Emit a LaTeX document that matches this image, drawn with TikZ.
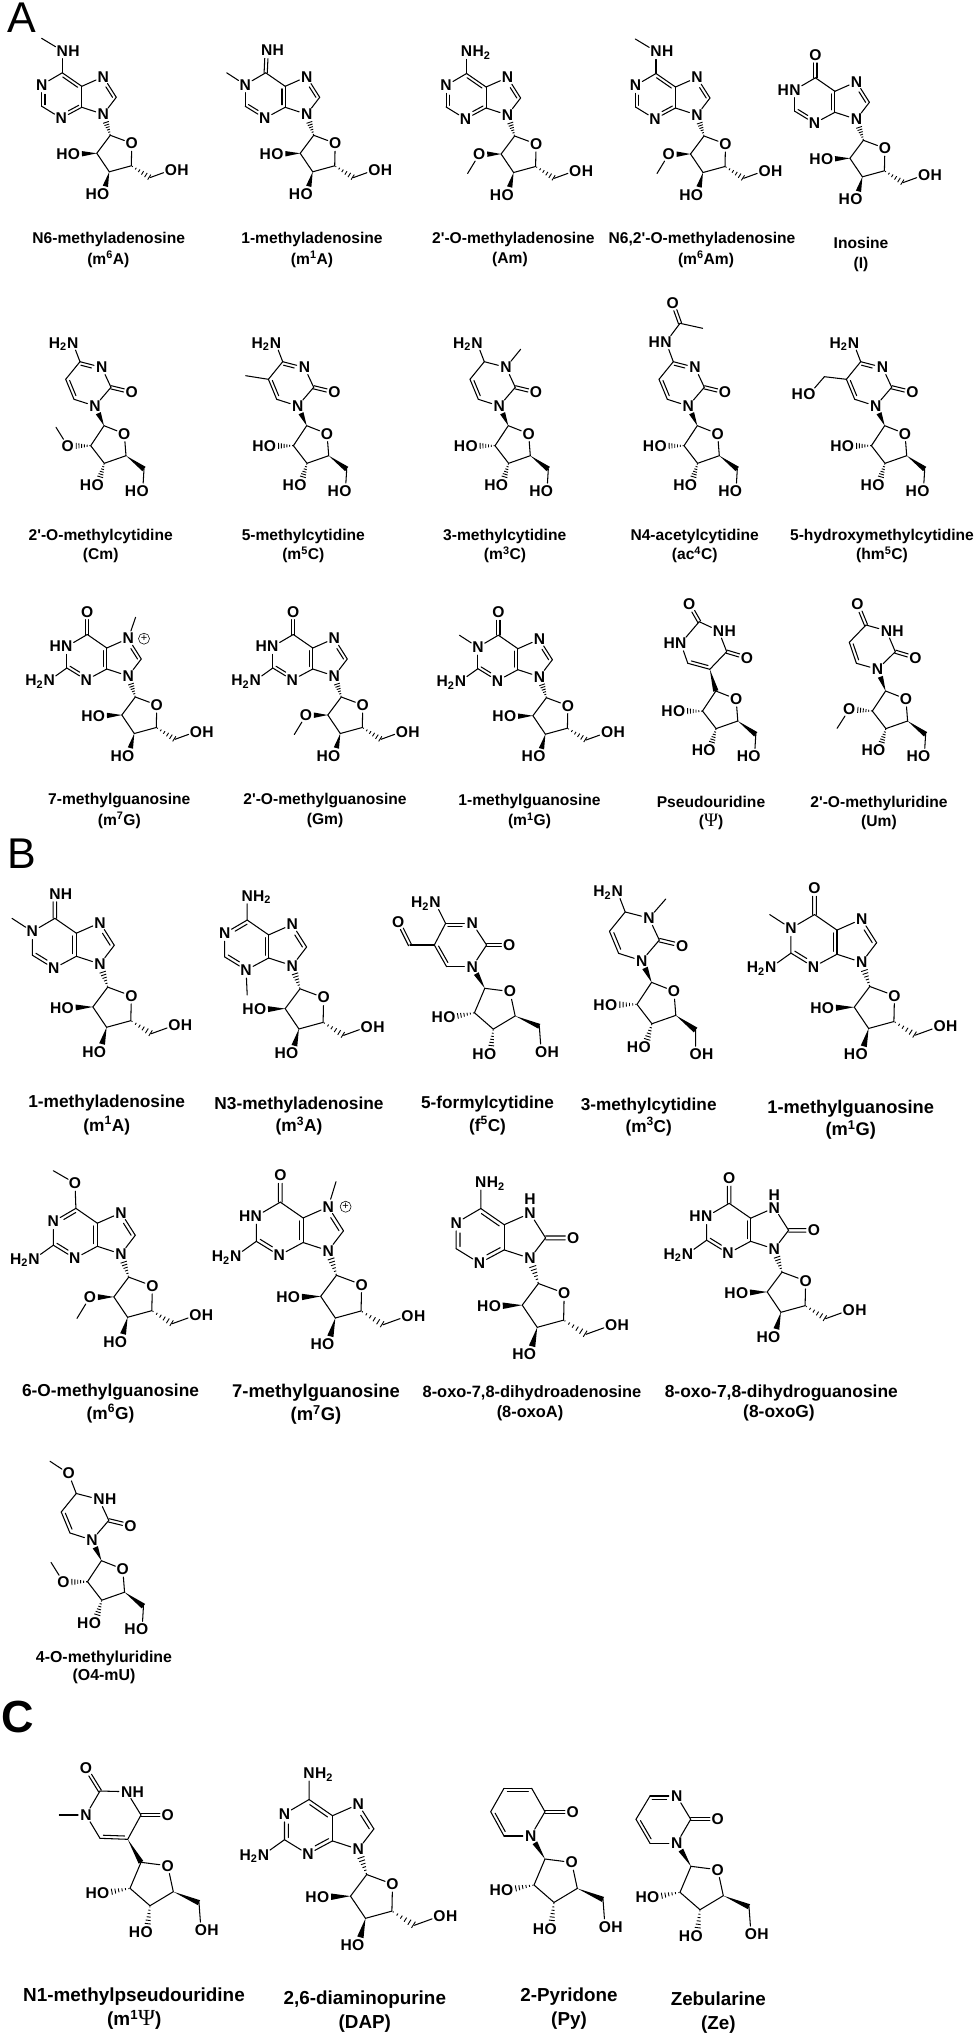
\documentclass[tikz,border=0pt]{standalone}
\usepackage{fontspec}
\setmainfont{Liberation Sans}
\newfontfamily\psifont{Liberation Serif}
\newfontfamily\lfont{Liberation Sans}
\usetikzlibrary{calc}
\tikzset{
  atomt/.style={inner sep=0pt,font=\fontsize{15.6}{15.6}\selectfont\bfseries},
  atomc/.style={circle,inner sep=0pt,minimum size=15.5pt},
  bnd/.style={line width=1.05pt,line cap=round},
  hashl/.style={line width=.9pt},
  chg/.style={circle,draw,line width=.55pt,inner sep=0pt,minimum size=11pt,font=\fontsize{11}{11}\selectfont},
  letter/.style={anchor=base west,inner sep=0pt}
}
% atoms
\newcommand\AtL[4]{\node[atomt] (#1t) at (#2) {#4};\node[atomc] (#1) at (#2) {};\node[atomt,anchor=base east] (#1p) at (#1t.base west) {#3};}
\newcommand\AtR[4]{\node[atomt] (#1t) at (#2) {#3};\node[atomc] (#1) at (#2) {};\node[atomt,anchor=base west] (#1p) at (#1t.base east) {#4};}
\newcommand\At[3]{\node[atomt] (#1t) at (#2) {#3};\node[atomc] (#1) at (#2) {};}
% bonds
\newcommand\bd[2]{\draw[bnd] (#1) -- (#2);}
\newcommand\dbx[4]{\draw[bnd] (#1) -- (#2);
  \path (#1) -- coordinate[pos=.12] (ss) coordinate[pos=.88] (ee) (#2);
  \draw[bnd] ($(ss)!3.2pt!#3:(ee)$) -- ($(ee)!3.2pt!#4:(ss)$);}
\newcommand\dbl[2]{\dbx{#1}{#2}{90}{-90}}
\newcommand\dbr[2]{\dbx{#1}{#2}{-90}{90}}
\newcommand\dbc[2]{\path (#1) -- coordinate[pos=0] (ss) coordinate[pos=1] (ee) (#2);
  \draw[bnd] ($(ss)!1.6pt!90:(ee)$) -- ($(ee)!1.6pt!-90:(ss)$);
  \draw[bnd] ($(ss)!1.6pt!-90:(ee)$) -- ($(ee)!1.6pt!90:(ss)$);}
\newcommand\wdg[2]{\path (#1) -- coordinate[pos=0] (ss) coordinate[pos=1] (ee) (#2);
  \fill (ss) -- ($(ee)!2.7pt!90:(ss)$) -- ($(ee)!2.7pt!-90:(ss)$) -- cycle;}
\newcommand\hsh[2]{\path (#1) -- coordinate[pos=0] (ss) coordinate[pos=1] (ee) (#2);
  \foreach \hpos/\hwid in {.06/.5,.24/1,.42/1.5,.6/2,.78/2.5,.96/3}{
    \draw[hashl] ($(ss)!\hpos!(ee)!\hwid pt!90:(ee)$) -- ($(ss)!\hpos!(ee)!\hwid pt!-90:(ee)$);}}
% purine skeleton, relative to N9
\newcommand\purCommon[1]{%
  \coordinate (C6) at (-41,-41.5);\coordinate (C2) at (-61.5,-8);\coordinate (C4) at (-21.5,-7);
  \coordinate (C5) at (-21.5,-28);\coordinate (C8) at (13,-17);
  \At{N9}{0,0}{N}\At{N7}{0,-37.5}{N}\At{N3}{-42,4}{N}\AtL{N1}{-61.5,-29.5}{#1}{N}
  \bd{C5}{N7}\bd{C4}{N9}\bd{N9}{C8}}
\newcommand\ImD{\dbl{C8}{N7}}
\newcommand\purA[1]{\purCommon{#1}\dbr{C6}{C5}\dbl{N1}{C2}\dbl{N3}{C4}\bd{C5}{C4}\bd{C6}{N1}\bd{C2}{N3}}
\newcommand\purG[1]{\purCommon{#1}\dbr{C5}{C4}\dbl{C2}{N3}\bd{C6}{C5}\bd{C4}{N3}\bd{C6}{N1}\bd{N1}{C2}}
\newcommand\purR[1]{\purCommon{#1}\dbr{N1}{C6}\dbl{C2}{N3}\dbr{C5}{C4}\bd{C6}{C5}\bd{N1}{C2}\bd{C4}{N3}}
\newcommand\Nb{\AtL{X2}{-79,4.5}{H\textsubscript{2}}{N}\bd{C2}{X2}}
\newcommand\Oxo{\At{X6}{-41,-64.3}{O}\dbc{C6}{X6}}
\newcommand\Ntwo{\AtR{X6}{-41,-63.5}{N}{H\textsubscript{2}}\bd{C6}{X6}}
\newcommand\NHMe{\AtR{X6}{-41,-63.5}{N}{H}\bd{C6}{X6}\coordinate (Mx) at (-61.7,-76);\bd{X6}{Mx}}
\newcommand\NMeOne{\coordinate (Mn) at (-80,-41.5);\bd{N1}{Mn}}
\newcommand\OxoEight{\bd{C8}{N7}\At{O8}{36,-17}{O}\dbc{C8}{O8}\node[atomt] (H7) at (0,-49) {H};}
% sugar of purines
\newcommand\sugA[1]{%
  \coordinate (C1p) at (7,21);\At{O4p}{28.5,29}{O}\coordinate (C4p) at (28,51.5);
  \coordinate (C3p) at (6,57.5);\coordinate (C2p) at (-6.5,39);\coordinate (C5p) at (46.7,63.3);
  \AtL{O3p}{0,79.7}{H}{O}\AtR{O5p}{67.7,55.7}{O}{H}
  \ifnum#1=0 \AtL{O2p}{-29.3,39.7}{H}{O}\else \At{O2p}{-28.3,39.3}{O}\coordinate (Ms) at (-40,58.5);\bd{O2p}{Ms}\fi
  \hsh{C1p}{N9}\bd{C1p}{O4p}\bd{O4p}{C4p}\bd{C4p}{C3p}\bd{C3p}{C2p}\bd{C2p}{C1p}
  \wdg{C2p}{O2p}\wdg{C3p}{O3p}\hsh{C4p}{C5p}\bd{C5p}{O5p}}
% sugar of pyrimidines: #1 0=HO at C5' below, 1=OH; #2 0 HO, 1 OMe up, 2 OMe down
\newcommand\sugB[2]{%
  \coordinate (C1p) at (9,19.7);\At{O4p}{29.3,27.7}{O}\coordinate (C4p) at (31,49.7);
  \coordinate (C3p) at (9.3,57.3);\coordinate (C2p) at (-4.3,39.7);\coordinate (C5p) at (49,63);
  \AtL{O3p}{2.7,79}{H}{O}
  \ifnum#1=0 \AtL{O5p}{47.7,85}{H}{O}\else \AtR{O5p}{49,85}{O}{H}\fi
  \ifnum#2=0 \AtL{O2p}{-27.7,40}{H}{O}\fi
  \ifnum#2=1 \At{O2p}{-27.3,40}{O}\coordinate (Ms) at (-39,21.3);\bd{O2p}{Ms}\fi
  \ifnum#2=2 \At{O2p}{-27.3,38}{O}\coordinate (Ms) at (-39.5,57);\bd{O2p}{Ms}\fi
  \sugRing}
\newcommand\sugRing{\bd{C1p}{O4p}\bd{O4p}{C4p}\bd{C4p}{C3p}\bd{C3p}{C2p}\bd{C2p}{C1p}
  \hsh{C2p}{O2p}\hsh{C3p}{O3p}\wdg{C4p}{C5p}\bd{C5p}{O5p}}
% sugar of panel C and 5-formyl
\newcommand\sugC{%
  \coordinate (C1p) at (13.3,23);\At{O4p}{40,26.4}{O}\coordinate (C4p) at (45.6,52.4);
  \coordinate (C3p) at (22.3,66.4);\coordinate (C2p) at (2.3,49);\coordinate (C5p) at (71.3,63.4);
  \AtL{O2p}{-24.4,54}{H}{O}\AtL{O3p}{19,93}{H}{O}\AtR{O5p}{73.3,90.7}{O}{H}
  \sugRing}
% cytosine ring relative to N1
\newcommand\pyr{%
  \coordinate (C4) at (-15,-44.3);\coordinate (C2) at (16,-18.7);\coordinate (C6) at (-21,-6.7);\coordinate (C5) at (-29.3,-26.7);
  \At{N1}{0,0}{N}\At{N3}{6.7,-38.7}{N}\At{O2}{36.7,-13.7}{O}
  \dbl{C5}{C6}\dbc{C2}{O2}\bd{N3}{C2}\bd{C2}{N1}\bd{N1}{C6}\bd{C5}{C4}}
\newcommand\Nfour{\AtL{N4}{-22.3,-63.3}{H\textsubscript{2}}{N}\bd{C4}{N4}}
\newcommand\lab[5]{\node[inner sep=0pt,anchor=base,font=\lfont\fontsize{#4}{#4}\selectfont\bfseries] (#1) at (#2,#3) {#5};}
\newcommand\up[1]{\textsuperscript{#1}}
\newcommand\PSI[1]{{\psifont\mdseries\fontsize{#1}{#1}\selectfont Ψ}}

\begin{document}
\begin{tikzpicture}[x=1pt,y=-1pt]
\useasboundingbox (0,0) rectangle (975,2034);
\node[letter,font=\fontsize{43}{43}\selectfont] (pa) at (7,33) {A};
\node[letter,font=\fontsize{43}{43}\selectfont] (pb) at (7,868) {B};
\node[letter,font=\fontsize{45}{45}\selectfont\bfseries] (pc) at (1,1732) {C};

% ---------- Panel A, row 1
\begin{scope}[name prefix=a1-,shift={(103.3,114.3)}]
  \purA{}\ImD\NHMe\sugA{0}
\end{scope}
\begin{scope}[name prefix=a2-,shift={(306.7,114.3)}]
  \purG{}\ImD\AtR{X6}{-40,-63.7}{N}{H}\dbc{C6}{X6}\NMeOne\sugA{0}
\end{scope}
\begin{scope}[name prefix=a3-,shift={(507.6,115)}]
  \purA{}\ImD\Ntwo\sugA{1}
\end{scope}
\begin{scope}[name prefix=a4-,shift={(697,115)}]
  \purA{}\ImD\NHMe\sugA{1}
\end{scope}
\begin{scope}[name prefix=a5-,shift={(856.4,119.3)}]
  \purG{H}\ImD\Oxo\sugA{0}
\end{scope}
\lab{la1}{108.7}{243}{15.6}{N6-methyladenosine}\lab{la1b}{108.3}{264}{15.6}{(m\up{6}A)}
\lab{la2}{312}{243}{15.6}{1-methyladenosine}\lab{la2b}{312}{264}{15.6}{(m\up{1}A)}
\lab{la3}{513.3}{243}{15.6}{2'-O-methyladenosine}\lab{la3b}{510}{263}{15.6}{(Am)}
\lab{la4}{702}{243}{15.6}{N6,2'-O-methyladenosine}\lab{la4b}{706}{264}{15.6}{(m\up{6}Am)}
\lab{la5}{861}{248.5}{15.6}{Inosine}\lab{la5b}{861}{268}{15.6}{(I)}

% ---------- Panel A, row 2
\begin{scope}[name prefix=b1-,shift={(95,406)}]
  \pyr\dbr{C4}{N3}\Nfour\sugB{0}{1}\wdg{C1p}{N1}
\end{scope}
\begin{scope}[name prefix=b2-,shift={(297.7,406)}]
  \pyr\dbr{C4}{N3}\Nfour\coordinate (Mf) at (-52,-30.3);\bd{C5}{Mf}\sugB{0}{0}\wdg{C1p}{N1}
\end{scope}
\begin{scope}[name prefix=b3-,shift={(499.3,406)}]
  \pyr\bd{C4}{N3}\Nfour\coordinate (Mf) at (21.3,-56.7);\bd{N3}{Mf}\sugB{0}{0}\wdg{C1p}{N1}
\end{scope}
\begin{scope}[name prefix=b4-,shift={(688.3,406)}]
  \pyr\dbr{C4}{N3}\AtL{N4}{-22.3,-64}{H}{N}\bd{C4}{N4}
  \coordinate (Ac) at (-8.3,-82.7);\At{Ao}{-15.7,-103.3}{O}\coordinate (Am) at (14.3,-77.7);
  \bd{N4}{Ac}\dbc{Ac}{Ao}\bd{Ac}{Am}\sugB{0}{0}\wdg{C1p}{N1}
\end{scope}
\begin{scope}[name prefix=b5-,shift={(875.7,406)}]
  \pyr\dbr{C4}{N3}\Nfour\coordinate (Cm) at (-51.3,-29.3);\AtL{Oh}{-66.3,-12}{H}{O}\bd{C5}{Cm}\bd{Cm}{Oh}\sugB{0}{0}\wdg{C1p}{N1}
\end{scope}
\lab{lb1}{100.7}{540}{15.6}{2'-O-methylcytidine}\lab{lb1b}{100.7}{559.5}{15.6}{(Cm)}
\lab{lb2}{303.3}{540}{15.6}{5-methylcytidine}\lab{lb2b}{303.3}{559.5}{15.6}{(m\up{5}C)}
\lab{lb3}{504.7}{540}{15.6}{3-methylcytidine}\lab{lb3b}{505}{559.5}{15.6}{(m\up{3}C)}
\lab{lb4}{694.7}{540}{15.6}{N4-acetylcytidine}\lab{lb4b}{694.7}{559.5}{15.6}{(ac\up{4}C)}
\lab{lb5}{882}{540}{15.6}{5-hydroxymethylcytidine}\lab{lb5b}{882}{559.5}{15.6}{(hm\up{5}C)}

% ---------- Panel A, row 3
\begin{scope}[name prefix=c1-,shift={(128.3,676)}]
  \purG{H}\ImD\Oxo\Nb\coordinate (M7) at (7.3,-58.7);\bd{N7}{M7}\node[chg] (plus) at (15.7,-37.3) {+};\sugA{0}
\end{scope}
\begin{scope}[name prefix=c2-,shift={(334.3,676)}]
  \purG{H}\ImD\Oxo\Nb\sugA{1}
\end{scope}
\begin{scope}[name prefix=c3-,shift={(539.4,676.7)}]
  \purG{}\ImD\Oxo\Nb\NMeOne\sugA{0}
\end{scope}
\begin{scope}[name prefix=c4-,shift={(709.8,669.3)}]
  \coordinate (C5) at (0,0);\coordinate (C6) at (-22,-6);\AtL{N1}{-29,-26}{H}{N}\coordinate (C2) at (-10.6,-47.6);
  \At{O2}{-20.5,-65}{O}\AtR{N3}{8.8,-38.6}{N}{H}\coordinate (C4) at (16.9,-17.6);\At{O4}{37.1,-11.6}{O}
  \dbl{C6}{C5}\bd{C6}{N1}\bd{N1}{C2}\bd{C2}{N3}\bd{N3}{C4}\bd{C4}{C5}\dbc{C2}{O2}\dbc{C4}{O4}
  \begin{scope}[shift={(-3,2)}]\sugB{0}{0}\end{scope}\wdg{C5}{C1p}
\end{scope}
\begin{scope}[name prefix=c5-,shift={(877.6,669.3)}]
  \At{N1}{0,0}{N}\coordinate (C6) at (-21.2,-6);\coordinate (C5) at (-28.3,-27);\coordinate (C4) at (-11.6,-44.3);
  \At{O4}{-20.1,-65}{O}\AtR{N3}{8.8,-38.6}{N}{H}\coordinate (C2) at (17.7,-17.6);\At{O2}{37.8,-11.6}{O}
  \dbl{C5}{C6}\bd{C6}{N1}\bd{N1}{C2}\bd{C2}{N3}\bd{N3}{C4}\bd{C4}{C5}\dbc{C2}{O2}\dbc{C4}{O4}
  \begin{scope}[shift={(-1,2)}]\sugB{0}{2}\end{scope}\wdg{C1p}{N1}
\end{scope}
\lab{lc1}{119.3}{804.5}{15.6}{7-methylguanosine}\lab{lc1b}{119.3}{825}{15.6}{(m\up{7}G)}
\lab{lc2}{325}{804.5}{15.6}{2'-O-methylguanosine}\lab{lc2b}{325}{824}{15.6}{(Gm)}
\lab{lc3}{529.5}{805.5}{15.6}{1-methylguanosine}\lab{lc3b}{529.5}{825.5}{15.6}{(m\up{1}G)}
\lab{lc4}{711}{807}{15.6}{Pseudouridine}\lab{lc4b}{711}{826}{15.6}{(\PSI{19})}
\lab{lc5}{879}{807}{15.6}{2'-O-methyluridine}\lab{lc5b}{879}{826}{15.6}{(Um)}

% ---------- Panel B, row 1
\begin{scope}[name prefix=d1-,shift={(100,964)},scale=1.1]
  \purG{}\ImD\AtR{X6}{-41,-63.7}{N}{H}\dbc{C6}{X6}\NMeOne\sugA{0}
\end{scope}
\begin{scope}[name prefix=d2-,shift={(292.3,965.7)},scale=1.1]
  \purR{}\ImD\Ntwo\coordinate (M3) at (-41,26.6);\bd{N3}{M3}\sugA{0}
\end{scope}
\begin{scope}[name prefix=d3-,shift={(472.3,966.7)}]
  \At{N1}{0,0}{N}\At{N3}{0,-43.3}{N}\coordinate (C4) at (-26.7,-43.3);\coordinate (C2) at (14.3,-21.7);
  \coordinate (C6) at (-25.7,0);\coordinate (C5) at (-38,-21.7);\At{O2}{37,-21.7}{O}
  \AtL{N4}{-37.3,-64.3}{H\textsubscript{2}}{N}\coordinate (Cf) at (-62.3,-21.7);\At{Of}{-74,-45}{O}
  \dbr{C4}{N3}\dbl{C5}{C6}\bd{N3}{C2}\bd{C2}{N1}\bd{N1}{C6}\bd{C5}{C4}\dbc{C2}{O2}\bd{C4}{N4}\bd{C5}{Cf}\dbc{Cf}{Of}
  \begin{scope}[scale=.94]\sugC\end{scope}\wdg{C1p}{N1}
\end{scope}
\begin{scope}[name prefix=d4-,shift={(641.7,960.7)},scale=1.1]
  \pyr\bd{C4}{N3}\Nfour\coordinate (Mf) at (21.8,-56);\bd{N3}{Mf}\sugB{1}{0}\wdg{C1p}{N1}
\end{scope}
\begin{scope}[name prefix=d5-,shift={(861.7,962.3)},scale=1.15]
  \purG{}\ImD\Oxo\Nb\NMeOne\sugA{0}
\end{scope}
\lab{ld1}{106.7}{1107.7}{17.3}{1-methyladenosine}\lab{ld1b}{106.7}{1131}{17.3}{(m\up{1}A)}
\lab{ld2}{299}{1109}{17.3}{N3-methyladenosine}\lab{ld2b}{299}{1131.5}{17.3}{(m\up{3}A)}
\lab{ld3}{487.5}{1108.7}{17.2}{5-formylcytidine}\lab{ld3b}{487.5}{1131}{17.2}{(f\up{5}C)}
\lab{ld4}{648.7}{1110}{17.2}{3-methylcytidine}\lab{ld4b}{648.7}{1132}{17.2}{(m\up{3}C)}
\lab{ld5}{850.7}{1113}{18.3}{1-methylguanosine}\lab{ld5b}{850.7}{1135.5}{18.3}{(m\up{1}G)}

% ---------- Panel B, row 2
\begin{scope}[name prefix=e1-,shift={(121,1254)},scale=1.1]
  \purR{}\ImD\Nb\At{X6}{-41.8,-64.3}{O}\bd{C6}{X6}\coordinate (Mo) at (-61.5,-75.7);\bd{X6}{Mo}\sugA{1}
\end{scope}
\begin{scope}[name prefix=e2-,shift={(328.3,1250.7)},scale=1.17]
  \purG{H}\ImD\Oxo\Nb\coordinate (M7) at (6.6,-59);\bd{N7}{M7}\node[chg] (plus) at (14.8,-37.6) {+};\sugA{0}
\end{scope}
\begin{scope}[name prefix=e3-,shift={(530,1258.3)},scale=1.2]
  \purA{}\OxoEight\Ntwo\sugA{0}
\end{scope}
\begin{scope}[name prefix=e4-,shift={(774.3,1249)},scale=1.1]
  \purG{H}\OxoEight\Oxo\Nb\sugA{0}
\end{scope}
\lab{le1}{110.5}{1396.7}{17.3}{6-O-methylguanosine}\lab{le1b}{110.5}{1419}{17.3}{(m\up{6}G)}
\lab{le2}{316}{1397.5}{18.4}{7-methylguanosine}\lab{le2b}{316}{1420.5}{18.4}{(m\up{7}G)}
\lab{le3}{532}{1397.5}{16.4}{8-oxo-7,8-dihydroadenosine}\lab{le3b}{530}{1417}{16.4}{(8-oxoA)}
\lab{le4}{781.3}{1397}{17.4}{8-oxo-7,8-dihydroguanosine}\lab{le4b}{779}{1417}{17.4}{(8-oxoG)}

% ---------- Panel B, row 3
\begin{scope}[name prefix=f1-,shift={(92,1540)},scale=1.05]
  \pyr\At{X4}{-22.3,-63.3}{O}\bd{C4}{X4}\coordinate (Mo) at (-40,-75);\bd{X4}{Mo}
  \node[atomt,anchor=base west] (N3H) at (N3t.base east) {H};\bd{C4}{N3}\sugB{0}{1}\wdg{C1p}{N1}
\end{scope}
\lab{lf1}{104}{1662.5}{15.9}{4-O-methyluridine}\lab{lf1b}{104}{1680.5}{15.9}{(O4-mU)}

% ---------- Panel C
\begin{scope}[name prefix=g1-,shift={(127.7,1839.3)}]
  \coordinate (C5) at (0,0);\coordinate (C6) at (-27.7,-1);\At{N1}{-41.7,-24.3}{N}\coordinate (C2) at (-27.7,-48.3);
  \At{O2}{-41.7,-71}{O}\AtR{N3}{-1,-47.6}{N}{H}\coordinate (C4) at (13.3,-24.3);\At{O4}{40,-24.3}{O}\coordinate (Mn) at (-68.4,-24.3);
  \dbl{C6}{C5}\bd{C6}{N1}\bd{N1}{C2}\bd{C2}{N3}\bd{N3}{C4}\bd{C4}{C5}\dbc{C2}{O2}\dbc{C4}{O4}\bd{N1}{Mn}
  \sugC\wdg{C5}{C1p}
\end{scope}
\begin{scope}[name prefix=g2-,shift={(358.3,1849.3)},scale=1.2]
  \purA{}\ImD\Ntwo\Nb\sugA{0}
\end{scope}
\begin{scope}[name prefix=g3-,shift={(530.7,1836)}]
  \At{N1}{0,0}{N}\coordinate (C2) at (14.3,-24.3);\At{O2}{42,-24.3}{O}\coordinate (C3) at (1,-47.7);
  \coordinate (C4) at (-26.7,-47.7);\coordinate (C5) at (-40,-24.3);\coordinate (C6) at (-26.7,0);
  \bd{N1}{C2}\dbc{C2}{O2}\bd{C2}{C3}\dbr{C4}{C3}\bd{C4}{C5}\dbl{C5}{C6}\bd{C6}{N1}
  \begin{scope}[shift={(1,0)}]\sugC\end{scope}\wdg{C1p}{N1}
\end{scope}
\begin{scope}[name prefix=g4-,shift={(676.7,1843.3)}]
  \At{N1}{0,0}{N}\coordinate (C2) at (14,-24);\At{O2}{41,-24}{O}\At{N3}{0,-47.3}{N}
  \coordinate (C4) at (-26.7,-47.3);\coordinate (C5) at (-40.7,-24);\coordinate (C6) at (-26.7,0);
  \bd{N1}{C2}\dbc{C2}{O2}\bd{C2}{N3}\dbr{C4}{N3}\bd{C4}{C5}\dbl{C5}{C6}\bd{C6}{N1}
  \begin{scope}[shift={(1,0)}]\sugC\end{scope}\wdg{C1p}{N1}
\end{scope}
\lab{lg1}{134}{2001.5}{18.9}{N1-methylpseudouridine}\lab{lg1b}{134.3}{2025.5}{18.9}{(m\up{1}\PSI{23})}
\lab{lg2}{364.8}{2004.2}{18.85}{2,6-diaminopurine}\lab{lg2b}{364.8}{2028}{18.85}{(DAP)}
\lab{lg3}{569}{2001.5}{18.8}{2-Pyridone}\lab{lg3b}{569}{2025.8}{18.8}{(Py)}
\lab{lg4}{718.3}{2005.5}{18.8}{Zebularine}\lab{lg4b}{718.3}{2029.5}{18.8}{(Ze)}
\end{tikzpicture}
\end{document}
